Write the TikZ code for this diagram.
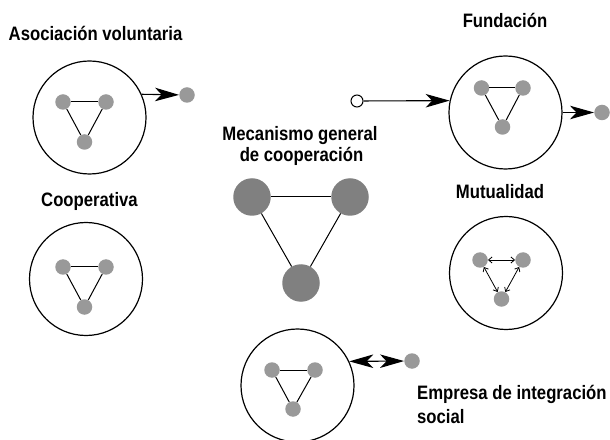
\documentclass[tikz,border=0pt]{standalone}
\usepackage{fontspec}
\setmainfont{Liberation Sans}
\newfontfamily\labfont[FakeStretch=0.86]{Liberation Sans}
\usetikzlibrary{arrows.meta}
\definecolor{smallgray}{HTML}{999999}
\definecolor{biggray}{HTML}{808080}
\tikzset{
  ring/.style={circle, draw=black, line width=1.2bp, minimum size=113bp, inner sep=0pt},
  sm/.style={circle, fill=smallgray, minimum size=15.5bp, inner sep=0pt},
  bigdot/.style={circle, fill=biggray, minimum size=37.5bp, inner sep=0pt},
  opendot/.style={circle, draw=black, fill=white, line width=1bp, minimum size=12bp, inner sep=0pt},
  lab/.style={font=\labfont\bfseries\fontsize{19.5}{22}\selectfont, anchor=base, inner sep=0pt},
  edge/.style={draw=black, line width=1bp},
  bigarr/.style={draw=black, line width=1.1bp, -{Stealth[length=24bp,width=13.5bp,inset=6.5bp]}},
  dblarr/.style={draw=black, line width=1.1bp, {Stealth[length=24bp,width=13.5bp,inset=6.5bp]}-{Stealth[length=24bp,width=13.5bp,inset=6.5bp]}},
  smallarr/.style={draw=black, line width=0.8bp, {Straight Barb[length=3.5bp,width=6bp]}-{Straight Barb[length=3.5bp,width=6bp]}}
}
\begin{document}
\begin{tikzpicture}[x=1bp,y=-1bp]
\useasboundingbox (0,0) rectangle (610,440);

% Labels
\node[lab] (tA) at (95.5,41) {Asociación voluntaria};
\node[lab] (tF) at (505,28) {Fundación};
\node[lab] (tM1) at (300,141) {Mecanismo general};
\node[lab] (tM2) at (301.5,162) {de cooperación};
\node[lab] (tC) at (89.5,207) {Cooperativa};
\node[lab] (tU) at (500,199) {Mutualidad};
\node[lab, anchor=base west] (tE1) at (417,399) {Empresa de integración};
\node[lab, anchor=base west] (tE2) at (417,423) {social};

% Asociación voluntaria
\node[ring] (cA) at (89.5,117.5) {};
\node[sm] (a1) at (63,102) {};
\node[sm] (a2) at (106,102) {};
\node[sm] (a3) at (84.5,142) {};
\draw[edge] (a1) -- (a2);
\draw[edge] (a1) -- (a3);
\draw[edge] (a2) -- (a3);
\node[sm] (aX) at (187,95) {};
\draw[bigarr] (cA.24) -- (aX);

% Cooperativa
\node[ring] (cC) at (86,279) {};
\node[sm] (c1) at (63,267) {};
\node[sm] (c2) at (106,267) {};
\node[sm] (c3) at (84.5,307) {};
\draw[edge] (c1) -- (c2);
\draw[edge] (c1) -- (c3);
\draw[edge] (c2) -- (c3);

% Fundación
\node[ring] (cF) at (505.5,112.5) {};
\node[sm] (f1) at (481.5,88) {};
\node[sm] (f2) at (523,88) {};
\node[sm] (f3) at (502.5,127) {};
\draw[edge] (f1) -- (f2);
\draw[edge] (f1) -- (f3);
\draw[edge] (f2) -- (f3);
\node[opendot] (fo) at (357,101) {};
\draw[bigarr] (fo) -- (cF.168.5);
\node[sm] (fX) at (602,112.5) {};
\draw[bigarr] (cF.east) -- (fX);

% Mecanismo general
\node[bigdot] (m1) at (252,197) {};
\node[bigdot] (m2) at (350,197) {};
\node[bigdot] (m3) at (301,283) {};
\draw[edge] (m1) -- (m2);
\draw[edge] (m1) -- (m3);
\draw[edge] (m2) -- (m3);

% Mutualidad
\node[ring] (cU) at (506,273) {};
\node[sm] (u1) at (480,260) {};
\node[sm] (u2) at (523,260) {};
\node[sm] (u3) at (501.5,299) {};
\draw[smallarr] (u1) -- (u2);
\draw[smallarr] (u1) -- (u3);
\draw[smallarr] (u2) -- (u3);

% Empresa de integración social
\node[ring] (cE) at (297.5,385.5) {};
\node[sm] (e1) at (272,370) {};
\node[sm] (e2) at (315,370) {};
\node[sm] (e3) at (293,409) {};
\draw[edge] (e1) -- (e2);
\draw[edge] (e1) -- (e3);
\draw[edge] (e2) -- (e3);
\node[sm] (eX) at (412,361) {};
\draw[dblarr] (cE.25) -- (eX);
\end{tikzpicture}
\end{document}
